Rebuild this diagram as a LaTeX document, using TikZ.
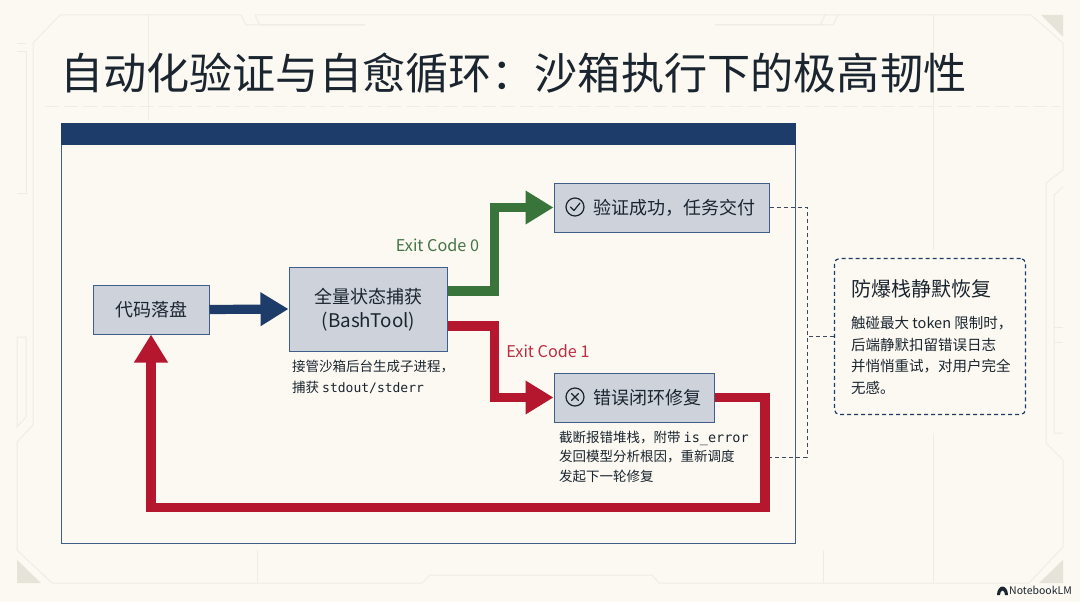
\documentclass[tikz,border=0pt]{standalone}
\usepackage{fontspec}
\setmainfont{Noto Sans CJK SC}
\setmonofont{DejaVu Sans Mono}
\usetikzlibrary{arrows.meta}
\definecolor{bgc}{HTML}{FBF9F1}
\definecolor{framec}{HTML}{EFEDE3}
\definecolor{cornerc}{HTML}{E6E4D9}
\definecolor{navy}{HTML}{1E3C6A}
\definecolor{edgec}{HTML}{3F5F8A}
\definecolor{boxc}{HTML}{CDD2DB}
\definecolor{inkc}{HTML}{1B2530}
\definecolor{greenc}{HTML}{39753A}
\definecolor{redc}{HTML}{B5172F}
\definecolor{dashc}{HTML}{3D4A5E}
\tikzset{
  framel/.style={draw=framec,line width=1pt},
  corner/.style={fill=cornerc,draw=none},
  procbox/.style={draw=edgec,fill=boxc,line width=1pt,inner sep=0pt},
  lab/.style={text=inkc,inner sep=0pt,font=\fontsize{18}{24}\selectfont},
  small/.style={text=inkc,inner sep=0pt,align=left,anchor=north west,font=\fontsize{13.5}{19.7}\selectfont},
  flow/.style={line width=9.2pt,-{Triangle[length=28pt,width=32pt]}},
  link/.style={draw=dashc,line width=.9pt,dash pattern=on 4pt off 3pt},
  icon/.style={circle,draw=inkc,line width=1.2pt,minimum size=18pt,inner sep=0pt},
  glyph/.style={draw=inkc,line width=1.2pt,line cap=round,line join=round}
}
\begin{document}
\begin{tikzpicture}[x=1pt,y=-1pt]
\useasboundingbox (0,0) rectangle (1080,602);
\fill[bgc] (0,0) rectangle (1080,602);
% decorative frame
\draw[framel] (33,425) -- (33,43) -- (60,15) -- (241,15) -- (246,25) -- (365,25);
\draw[framel] (255,15) -- (260,25) -- (365,25);
\draw[framel] (255,15) -- (1031,15) -- (1063,43) -- (1063,170) -- (1046,183) -- (1046,443) -- (1063,460) -- (1063,547) -- (1029,583) -- (659,583) -- (652,575) -- (430,575) -- (422,583) -- (52,583) -- (17,550) -- (17,442) -- (33,425);
\draw[framel] (825,25) -- (715,25);
\draw[framel] (825,15) -- (820,25);
\draw[framel] (838,15) -- (833,25) -- (715,25);
\draw[framel] (17,44) -- (26,44);
\draw[framel] (17,52) -- (26,52) -- (26,193) -- (17,193);
\draw[framel] (17,337) -- (26,337) -- (26,417) -- (17,427) -- cycle;
\draw[framel] (1063,187) -- (1054,195) -- (1054,433) -- (1063,433);
\draw[framel] (1054,327) -- (1063,327);
\draw[framel] (1054,342) -- (1063,342);
\draw[framel,dashed,dash pattern=on 14pt off 5pt] (45,107) -- (1060,107);
\draw[framel,line width=.6pt] (148,15) -- (148,120);
\draw[framel,line width=.6pt] (933,15) -- (933,250);
\draw[framel,line width=.6pt] (933,433) -- (933,583);
\draw[framel,line width=.6pt] (257,550) -- (257,583);
\draw[framel,line width=.6pt] (823,550) -- (823,583);
\fill[corner] (1041,15) -- (1063,15) -- (1063,37) -- cycle;
\fill[corner] (17,560) -- (17,583) -- (41,583) -- cycle;
\fill[corner] (1063,560) -- (1063,583) -- (1039,583) -- cycle;
% title
\node[text=inkc,inner sep=0pt,anchor=west,font=\fontsize{43.15}{50}\selectfont] (title) at (60,73) {自动化验证与自愈循环：沙箱执行下的极高韧性};
% panel
\node[draw=edgec,line width=1pt,fill=bgc,minimum width=734pt,minimum height=420pt,inner sep=0pt] (panel) at (428,333) {};
\node[fill=navy,minimum width=735pt,minimum height=22pt,inner sep=0pt] (head) at (428,134) {};
% boxes
\node[procbox,minimum width=116pt,minimum height=49pt] (code) at (151,309.5) {};
\node[lab] (codet) at (151,309.5) {代码落盘};
\node[procbox,minimum width=158pt,minimum height=84pt] (cap) at (368,309) {};
\node[lab] (capa) at (368,297) {全量状态捕获};
\node[lab,font=\fontsize{18.8}{24}\selectfont] (capb) at (368.5,322) {(BashTool)};
\node[procbox,minimum width=215pt,minimum height=49pt] (ok) at (661.5,207.5) {};
\node[lab,anchor=west] (okt) at (593,208) {验证成功，任务交付};
\node[procbox,minimum width=160pt,minimum height=49pt] (err) at (634,397.5) {};
\node[lab,anchor=west] (errt) at (593,398) {错误闭环修复};
% icons
\node[icon] (oki) at (575,207) {};
\draw[glyph] ([shift={(-4.5pt,0pt)}]oki.center) -- ([shift={(-1pt,-3.5pt)}]oki.center) -- ([shift={(5pt,4pt)}]oki.center);
\node[icon] (erri) at (575,397) {};
\draw[glyph] ([shift={(-3.5pt,-3.5pt)}]erri.center) -- ([shift={(3.5pt,3.5pt)}]erri.center);
\draw[glyph] ([shift={(-3.5pt,3.5pt)}]erri.center) -- ([shift={(3.5pt,-3.5pt)}]erri.center);
% flow connectors
\draw[flow,navy] (code.east) -- (cap.west);
\draw[flow,greenc] ([yshift=18pt]cap.east) -- ++(47,0) |- (ok.west);
\draw[flow,redc] ([yshift=-17pt]cap.east) -- ++(47,0) |- (err.west);
\coordinate (fb) at (765,507.5);
\draw[flow,redc] (err.east) -| (fb) -| (code.south);
% labels
\node[inner sep=0pt,text=greenc!85!black!90,font=\fontsize{16.2}{18}\selectfont] (ex0) at (437.5,245) {Exit Code 0};
\node[inner sep=0pt,text=redc!90,font=\fontsize{16.2}{18}\selectfont] (ex1) at (548,351) {Exit Code 1};
\node[small,font=\fontsize{13.5}{20.5}\selectfont] (capnote) at (292,360) {接管沙箱后台生成子进程，\\捕获 \texttt{\fontsize{13}{20.5}\selectfont stdout/stderr}};
\node[small] (errnote) at (559,430.5) {截断报错堆栈，附带 \texttt{\fontsize{13.5}{19.7}\selectfont is\_error}\\发回模型分析根因，重新调度\\发起下一轮修复};
% side note
\node[draw=navy,line width=1.2pt,dash pattern=on 4pt off 3pt,rounded corners=5pt,minimum width=191pt,minimum height=156pt,inner sep=0pt] (side) at (930,336.5) {};
\node[lab,anchor=west,font=\fontsize{20}{24}\selectfont] (sidet) at (851,289) {防爆栈静默恢复};
\node[small,font=\fontsize{14.5}{21.4}\selectfont,anchor=north west] (sideb) at (851,316.5) {触碰最大 token 限制时，\\后端静默扣留错误日志\\并悄悄重试，对用户完全\\无感。};
% dashed links
\coordinate (busT) at (807,207.5);
\coordinate (busB) at (807,457);
\coordinate (errR) at (769.5,457);
\draw[link] (ok.east) -- (busT) -- (busB) -- (errR);
\draw[link] (side.west) -- (side.west -| busT);
% watermark
\fill[inkc] (997,595) arc (180:0:5.5pt and 8.5pt) -- (1005,595) arc (0:180:2.5pt and 4.5pt) -- cycle;
\node[inner sep=0pt,anchor=west,text=inkc,font=\fontsize{10.5}{12}\selectfont] (nlm) at (1009,590) {NotebookLM};
\end{tikzpicture}
\end{document}
